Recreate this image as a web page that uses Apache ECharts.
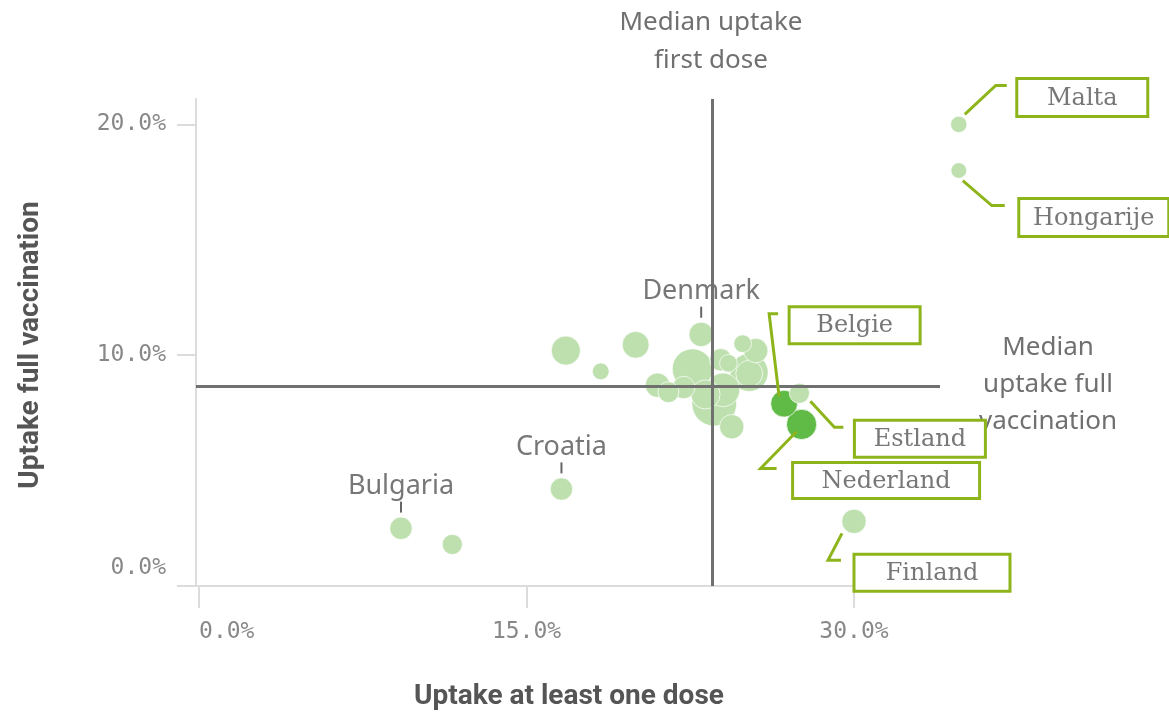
<!DOCTYPE html>
<html>
<head>
<meta charset="utf-8">
<script src="https://cdn.jsdelivr.net/npm/echarts@6/dist/echarts.min.js"></script>
<style>
  html, body { margin: 0; padding: 0; background: #fff; }
  #uptake { width: 1169px; height: 715px; }
</style>
</head>
<body>
<div id="uptake"></div>
<script>
// countries (only the labelled ones are named in the picture)
var countries = ['Malta', 'Hongarije', 'Denmark', 'Belgie', 'Nederland', 'Estland', 'Finland', 'Croatia', 'Bulgaria',
  '', '', '', '', '', '', '', '', '', '', '', '', '', '', '', '', '', ''];
// uptake at least one dose (%)
var firstDose = [34.8, 34.8, 23.0, 26.8, 27.6, 27.5, 30.0, 16.6, 9.25,
  11.6, 16.8, 20.0, 18.4, 22.6, 21.0, 21.5, 22.2, 23.2, 23.6, 23.9, 24.25, 24.0, 24.4, 24.9, 25.5, 25.2, 25.2];
// uptake full vaccination (%)
var fullVacc = [20.0, 18.0, 10.9, 7.9, 7.0, 8.35, 2.8, 4.2, 2.5,
  1.8, 10.2, 10.45, 9.3, 9.4, 8.7, 8.4, 8.6, 8.3, 7.9, 9.8, 9.65, 8.5, 6.9, 10.5, 10.2, 9.25, 9.2];
// bubble weight (relative population)
var weight = [8.5, 7.8, 19, 23, 29, 13, 19, 16, 16,
  13, 27, 23, 9, 52, 19, 14, 16, 27, 64, 16, 10, 36, 19, 10, 19, 46, 23];

var medianFirstDose = 23.5;
var medianFullVacc = 8.66;

var xTicks = [0, 15, 30];
var yTicks = [0, 10, 20];

var highlighted = ['Belgie', 'Nederland'];
var plainLabels = ['Denmark', 'Croatia', 'Bulgaria'];

// callout boxes: offset of box and leader line from the bubble centre
var callouts = {
  'Malta':     { box: [58, -46, 131, 38], leader: [[6, -10], [37, -39], [48, -39]] },
  'Hongarije': { box: [60, 28, 150, 38],  leader: [[4, 10], [33, 35], [46, 35]] },
  'Belgie':    { box: [5, -97, 131, 37],  leader: [[-5, -7], [-15, -90], [-6, -90]] },
  'Estland':   { box: [55, 27, 131, 37],  leader: [[11, 8], [35, 34], [44, 34]] },
  'Nederland': { box: [-9, 38, 187, 36],  leader: [[-5, 7], [-41, 44], [-25, 44]] },
  'Finland':   { box: [0, 33, 156, 37],   leader: [[-12, 12], [-26, 39], [-13, 39]] }
};

var green = '#8db51b';
var sans = '"Noto Sans", sans-serif';

var chart = echarts.init(document.getElementById('uptake'));

var points = [];
for (var i = 0; i < countries.length; i++) {
  var name = countries[i];
  var item = {
    name: name,
    value: [firstDose[i], fullVacc[i], weight[i]],
    itemStyle: { color: highlighted.indexOf(name) >= 0 ? '#5fba46' : '#bde0ae' }
  };
  if (plainLabels.indexOf(name) >= 0) {
    item.label = {
      show: true,
      position: 'top',
      distance: 4,
      formatter: '{n|' + name + '}\n{t| }',
      rich: {
        n: { fontFamily: sans, fontSize: 27, color: '#777', lineHeight: 30, align: 'center' },
        t: { width: 2, height: 11, lineHeight: 11, backgroundColor: '#666', align: 'center' }
      }
    };
  }
  points.push(item);
}
// bigger bubbles underneath
points.sort(function (a, b) { return b.value[2] - a.value[2]; });

var axisGrey = '#dcdcdc';

chart.setOption({
  animation: false,
  textStyle: { fontFamily: sans },
  grid: { left: 196, right: 229, top: 99, bottom: 129, outerBoundsMode: 'none' },
  xAxis: {
    type: 'value',
    min: -0.14,
    max: 33.94,
    splitLine: { show: false },
    axisLine: { show: true, onZero: false, lineStyle: { color: axisGrey, width: 2 } },
    axisTick: { show: true, length: 22, customValues: xTicks, lineStyle: { color: axisGrey, width: 2 } },
    axisLabel: {
      customValues: xTicks,
      margin: 35,
      alignMinLabel: 'left',
      fontFamily: '"DejaVu Sans Mono", monospace',
      fontSize: 23,
      color: '#888',
      formatter: function (v) { return v.toFixed(1) + '%'; }
    }
  },
  yAxis: {
    type: 'value',
    min: 0,
    max: 21.1,
    splitLine: { show: false },
    axisLine: { show: true, onZero: false, lineStyle: { color: axisGrey, width: 2 } },
    axisTick: { show: true, length: 19, customValues: yTicks, lineStyle: { color: axisGrey, width: 2 } },
    axisLabel: {
      customValues: yTicks,
      margin: 30,
      verticalAlignMinLabel: 'bottom',
      fontFamily: '"DejaVu Sans Mono", monospace',
      fontSize: 23,
      color: '#888',
      padding: [0, 0, 6, 0],
      formatter: function (v) { return v.toFixed(1) + '%'; }
    }
  },
  series: [
    {
      type: 'scatter',
      z: 1,
      data: [],
      markLine: {
        silent: true,
        symbol: 'none',
        label: { show: false },
        lineStyle: { color: '#707070', width: 3, type: 'solid' },
        data: [{ xAxis: medianFirstDose }, { yAxis: medianFullVacc }]
      }
    },
    {
      type: 'scatter',
      z: 3,
      clip: false,
      symbolSize: function (val) { return 5.6 * Math.sqrt(val[2]); },
      itemStyle: { borderColor: 'rgba(255,255,255,0.7)', borderWidth: 1, opacity: 1 },
      emphasis: { disabled: true },
      data: points
    }
  ]
});

// titles, median captions and callout boxes
var titleFont = { fontFamily: '"Roboto", sans-serif', fontWeight: 'bold', fontSize: 28, fill: '#555', align: 'center', verticalAlign: 'middle' };
var graphics = [
  { type: 'text', x: 569, y: 697, style: Object.assign({ text: 'Uptake at least one dose' }, titleFont) },
  { type: 'text', x: 31, y: 345, rotation: Math.PI / 2, style: Object.assign({ text: 'Uptake full vaccination' }, titleFont) },
  { type: 'text', x: 711, y: 42, style: { text: 'Median uptake\nfirst dose', fontFamily: sans, fontSize: 26, lineHeight: 38, fill: '#707070', align: 'center', verticalAlign: 'middle' } },
  { type: 'text', x: 1048, y: 385, z: 50, style: { text: 'Median\nuptake full\nvaccination', fontFamily: sans, fontSize: 26, lineHeight: 37, fill: '#707070', align: 'center', verticalAlign: 'middle' } }
];

Object.keys(callouts).forEach(function (name) {
  var idx = countries.indexOf(name);
  var p = chart.convertToPixel({ gridIndex: 0 }, [firstDose[idx], fullVacc[idx]]);
  var c = callouts[name];
  graphics.push({
    type: 'polyline', z: 100,
    shape: { points: c.leader.map(function (d) { return [p[0] + d[0], p[1] + d[1]]; }) },
    style: { stroke: green, lineWidth: 3, fill: null }
  });
  graphics.push({
    type: 'rect', z: 100,
    shape: { x: p[0] + c.box[0], y: p[1] + c.box[1], width: c.box[2], height: c.box[3] },
    style: { fill: '#fff', stroke: green, lineWidth: 3 }
  });
  graphics.push({
    type: 'text', z: 101,
    x: p[0] + c.box[0] + c.box[2] / 2, y: p[1] + c.box[1] + c.box[3] / 2 + 1,
    style: { text: name, fontFamily: '"DejaVu Serif", serif', fontSize: 24, fill: '#777', align: 'center', verticalAlign: 'middle' }
  });
});

chart.setOption({ graphic: graphics });
</script>
</body>
</html>
